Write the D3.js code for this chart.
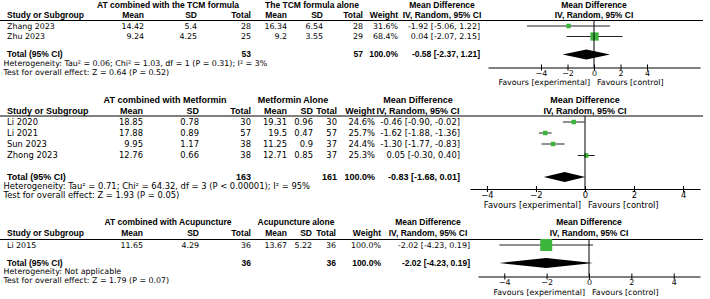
<!DOCTYPE html>
<html>
<head>
<meta charset="utf-8">
<script src="https://cdn.jsdelivr.net/npm/d3@7"></script>
<style>
body{margin:0;background:#fff;}
svg text{fill:#000;}
</style>
</head>
<body>
<div id="chart"></div>
<script>
// ---- panel 1: AT + TCM formula
var tcmGroups = ["AT combined with the TCM formula", "The TCM formula alone"];
var tcmStudy = ["Zhang 2023", "Zhu 2023"];
var tcmExpMean = [14.42, 9.24];
var tcmExpSd = [5.4, 4.25];
var tcmExpN = [28, 25];
var tcmCtlMean = [16.34, 9.2];
var tcmCtlSd = [6.54, 3.55];
var tcmCtlN = [28, 29];
var tcmWeight = [31.6, 68.4];
var tcmMd = [-1.92, 0.04];
var tcmLo = [-5.06, -2.07];
var tcmHi = [1.22, 2.15];
var tcmTotal = [-0.58, -2.37, 1.21];
var tcmTotalN = [53, 57];
var tcmHet = "Heterogeneity: Tau² = 0.06; Chi² = 1.03, df = 1 (P = 0.31); I² = 3%";
var tcmTest = "Test for overall effect: Z = 0.64 (P = 0.52)";

// ---- panel 2: AT + Metformin
var metGroups = ["AT combined with Metformin", "Metformin Alone"];
var metStudy = ["Li 2020", "Li 2021", "Sun 2023", "Zhong 2023"];
var metExpMean = [18.85, 17.88, 9.95, 12.76];
var metExpSd = [0.78, 0.89, 1.17, 0.66];
var metExpN = [30, 57, 38, 38];
var metCtlMean = [19.31, 19.5, 11.25, 12.71];
var metCtlSd = [0.96, 0.47, 0.9, 0.85];
var metCtlN = [30, 57, 37, 37];
var metWeight = [24.6, 25.7, 24.4, 25.3];
var metMd = [-0.46, -1.62, -1.30, 0.05];
var metLo = [-0.90, -1.88, -1.77, -0.30];
var metHi = [-0.02, -1.36, -0.83, 0.40];
var metTotal = [-0.83, -1.68, 0.01];
var metTotalN = [163, 161];
var metHet = "Heterogeneity: Tau² = 0.71; Chi² = 64.32, df = 3 (P < 0.00001); I² = 95%";
var metTest = "Test for overall effect: Z = 1.93 (P = 0.05)";

// ---- panel 3: AT + Acupuncture
var acuGroups = ["AT combined with Acupuncture", "Acupuncture alone"];
var acuStudy = ["Li 2015"];
var acuExpMean = [11.65];
var acuExpSd = [4.29];
var acuExpN = [36];
var acuCtlMean = [13.67];
var acuCtlSd = [5.22];
var acuCtlN = [36];
var acuWeight = [100.0];
var acuMd = [-2.02];
var acuLo = [-4.23];
var acuHi = [0.19];
var acuTotal = [-2.02, -4.23, 0.19];
var acuTotalN = [36, 36];
var acuHet = "Heterogeneity: Not applicable";
var acuTest = "Test for overall effect: Z = 1.79 (P = 0.07)";

var axisTicks = [-4, -2, 0, 2, 4];
var favLabels = ["Favours [experimental]", "Favours [control]"];

var w = 710, h = 299;
var green = "#3db53d";
var regFont = "'DejaVu Sans', sans-serif";
var boldFont = "'Liberation Sans', Arial, sans-serif";

var svg = d3.select("#chart").append("svg")
  .attr("width", w)
  .attr("height", h);

function fmt2(v){ return v.toFixed(2); }
function ciText(m, lo, hi){ return fmt2(m) + " [" + fmt2(lo) + ", " + fmt2(hi) + "]"; }

var L; // current panel layout
function txt(g, x, y, s, anchor, bold){
  return g.append("text")
    .attr("x", x)
    .attr("y", y)
    .attr("dy", "0.35em")
    .attr("text-anchor", anchor || "start")
    .style("font-family", bold ? boldFont : regFont)
    .style("font-size", (bold ? L.fsB : L.fs) + "px")
    .style("font-weight", bold ? "bold" : "normal")
    .text(s);
}

function drawPanel(d, layout){
  L = layout;
  var g = svg.append("g");
  var c = L.cols;   // right edges: expMean, expSd, expN, ctlMean, ctlSd, ctlN, weight, ci
  var xScale = d3.scaleLinear()
    .domain([-L.half, L.half])
    .range(L.range);
  var sizeScale = d3.scaleLinear().domain([0, 100]).range([0, 12]);
  function sz(r){ return Math.max(4.5, sizeScale(r.wt)); }
  var zero = xScale(0);

  // headers
  txt(g, L.expC, L.h1, d.groups[0], "middle", true);
  txt(g, L.ctlC, L.h1, d.groups[1], "middle", true);
  txt(g, L.mdC, L.h1, "Mean Difference", "middle", true);
  txt(g, zero, L.h1, "Mean Difference", "middle", true);
  txt(g, L.study, L.h2, "Study or Subgroup", "start", true);
  var heads = ["Mean", "SD", "Total", "Mean", "SD", "Total", "Weight"];
  heads.forEach(function(s, i){ txt(g, c[i], L.h2, s, "end", true); });
  txt(g, L.mdC, L.h2, "IV, Random, 95% CI", "middle", true);
  txt(g, zero, L.h2, "IV, Random, 95% CI", "middle", true);

  g.append("line")
    .attr("x1", 0).attr("x2", 703)
    .attr("y1", L.line).attr("y2", L.line)
    .attr("stroke", "#000").attr("stroke-width", 1);

  // study rows
  var rows = d.study.map(function(s, i){
    return {study: s, em: d.em[i], es: d.es[i], en: d.en[i], cm: d.cm[i], cs: d.cs[i], cn: d.cn[i],
            wt: d.wt[i], md: d.md[i], lo: d.lo[i], hi: d.hi[i], y: L.rows[i]};
  });
  rows.forEach(function(r){
    txt(g, L.study, r.y, r.study, "start", false);
    var vals = [String(r.em), String(r.es), String(r.en), String(r.cm), String(r.cs), String(r.cn),
                r.wt.toFixed(1) + "%", ciText(r.md, r.lo, r.hi)];
    vals.forEach(function(s, i){ txt(g, c[i], r.y, s, "end", false); });
  });

  // CI lines + squares
  g.selectAll("line.ci").data(rows).enter().append("line")
    .attr("class", "ci")
    .attr("x1", function(r){ return xScale(r.lo); })
    .attr("x2", function(r){ return xScale(r.hi); })
    .attr("y1", function(r){ return r.y; })
    .attr("y2", function(r){ return r.y; })
    .attr("stroke", "#222").attr("stroke-width", 1);
  g.selectAll("rect.sq").data(rows).enter().append("rect")
    .attr("class", "sq")
    .attr("x", function(r){ return xScale(r.md) - sz(r) / 2; })
    .attr("y", function(r){ return r.y - sz(r) / 2; })
    .attr("width", sz)
    .attr("height", sz)
    .attr("fill", green);

  // total row
  txt(g, L.study, L.total, "Total (95% CI)", "start", true);
  txt(g, c[2], L.total, String(d.totalN[0]), "end", true);
  txt(g, c[5], L.total, String(d.totalN[1]), "end", true);
  txt(g, c[6], L.total, "100.0%", "end", true);
  txt(g, c[7], L.total, ciText(d.total[0], d.total[1], d.total[2]), "end", true);

  var dh = 5;
  g.append("path")
    .attr("d", "M" + xScale(d.total[1]) + "," + L.total +
               "L" + xScale(d.total[0]) + "," + (L.total - dh) +
               "L" + xScale(d.total[2]) + "," + L.total +
               "L" + xScale(d.total[0]) + "," + (L.total + dh) + "Z")
    .attr("fill", "#000");

  txt(g, 3.5, L.het, d.het, "start", false);
  txt(g, 3.5, L.test, d.test, "start", false);

  // zero line
  g.append("line")
    .attr("x1", zero).attr("x2", zero)
    .attr("y1", L.line).attr("y2", L.axis)
    .attr("stroke", "#000").attr("stroke-width", 1);

  // axis
  var ax = g.append("g")
    .attr("transform", "translate(0," + L.axis + ")")
    .call(d3.axisBottom(xScale)
      .tickValues(axisTicks)
      .tickSizeInner(-4)
      .tickSizeOuter(0)
      .tickPadding(3)
      .tickFormat(function(v){ return v < 0 ? "\u2212" + Math.abs(v) : String(v); }));
  ax.select(".domain").attr("stroke", "#000");
  ax.selectAll(".tick line").attr("stroke", "#000").attr("y2", 3).attr("y1", -3);
  ax.selectAll(".tick text")
    .style("font-size", L.fs + "px")
    .style("font-family", regFont)
    .attr("fill", "#000");

  txt(g, zero - 4, L.fav, favLabels[0], "end", false);
  txt(g, zero + 3, L.fav, favLabels[1], "start", false);
}

drawPanel(
  {groups: tcmGroups, study: tcmStudy, em: tcmExpMean, es: tcmExpSd, en: tcmExpN, cm: tcmCtlMean,
   cs: tcmCtlSd, cn: tcmCtlN, wt: tcmWeight, md: tcmMd, lo: tcmLo, hi: tcmHi, total: tcmTotal,
   totalN: tcmTotalN, het: tcmHet, test: tcmTest},
  {h1: 5, h2: 15, line: 20.5, rows: [26, 36.5], total: 54.5, het: 63.5, test: 72, axis: 67.5, fav: 82,
   fs: 7.9, fsB: 8.5, study: 7, cols: [144, 197, 251, 287, 323, 363, 398, 480], expC: 168, ctlC: 312, mdC: 442,
   range: [488, 700], half: 8});

drawPanel(
  {groups: metGroups, study: metStudy, em: metExpMean, es: metExpSd, en: metExpN, cm: metCtlMean,
   cs: metCtlSd, cn: metCtlN, wt: metWeight, md: metMd, lo: metLo, hi: metHi, total: metTotal,
   totalN: metTotalN, het: metHet, test: metTest},
  {h1: 100, h2: 110.5, line: 116, rows: [122, 133, 144, 155.5], total: 177, het: 186, test: 195.5,
   axis: 189, fav: 205, fs: 8.4, fsB: 9, study: 7, cols: [143, 199, 251, 287, 313, 337, 375, 460],
   expC: 165, ctlC: 293, mdC: 418, range: [470, 700], half: 4.69});

drawPanel(
  {groups: acuGroups, study: acuStudy, em: acuExpMean, es: acuExpSd, en: acuExpN, cm: acuCtlMean,
   cs: acuCtlSd, cn: acuCtlN, wt: acuWeight, md: acuMd, lo: acuLo, hi: acuHi, total: acuTotal,
   totalN: acuTotalN, het: acuHet, test: acuTest},
  {h1: 222, h2: 233, line: 239.5, rows: [245], total: 263, het: 271.5, test: 280.5, axis: 276.5, fav: 292.5,
   fs: 7.9, fsB: 8.5, study: 7, cols: [143, 199, 251, 287, 312, 336, 381, 470], expC: 168, ctlC: 296, mdC: 428,
   range: [478, 700], half: 5.24});
</script>
</body>
</html>
